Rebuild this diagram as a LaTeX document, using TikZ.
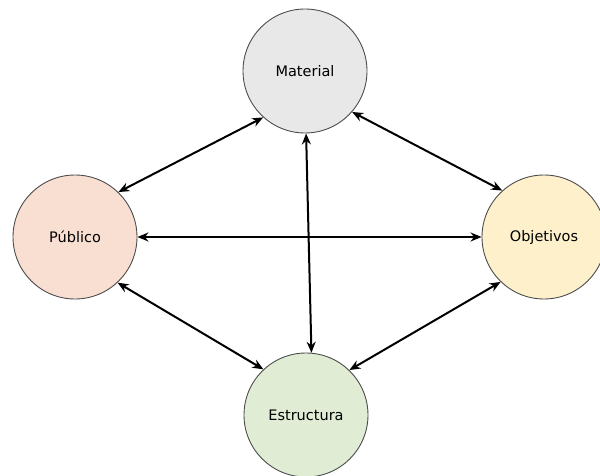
\documentclass[tikz,border=0pt]{standalone}
\usepackage{fontspec}
\setmainfont{DejaVu Sans}
\usepackage{xcolor}
\usetikzlibrary{arrows.meta}
\definecolor{matfill}{HTML}{E8E8E8}
\definecolor{pubfill}{HTML}{F8DFD2}
\definecolor{objfill}{HTML}{FEF0CB}
\definecolor{estfill}{HTML}{E0EDD4}
\begin{document}
\begin{tikzpicture}[<->,>={Stealth[length=11pt,width=9pt]},x=1pt,y=-1pt,line width=2pt,
  topic/.style={circle,draw=black!70,line width=0.9pt,minimum size=124pt,inner sep=0pt,font=\fontsize{14.5}{17}\selectfont}]
  \useasboundingbox (0,0) rectangle (600,476);
  \clip (0,0) rectangle (600,476);

  \node[topic,fill=matfill] (mat) at (305,71)  {Material};
  \node[topic,fill=pubfill] (pub) at (75,237)  {Público};
  \node[topic,fill=objfill] (obj) at (544,237) {Objetivos};
  \node[topic,fill=estfill] (est) at (306,415) {Estructura};

  \path (mat.-132) edge (pub.46)
        (mat.-41)  edge (obj.132)
        (pub.0)    edge (obj.180)
        (pub.-47)  edge (est.133)
        (obj.226)  edge (est.46)
        (mat.-89)  edge (est.85);
\end{tikzpicture}
\end{document}
